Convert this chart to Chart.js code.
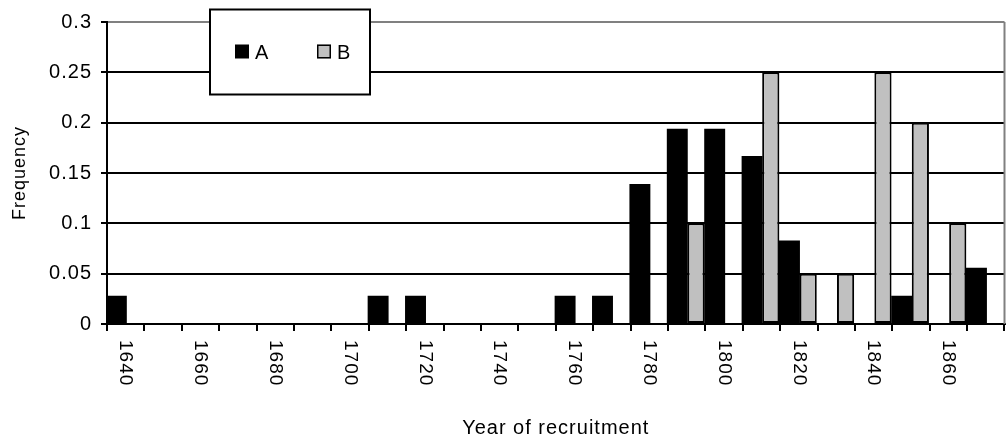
<!DOCTYPE html>
<html>
<head>
<meta charset="utf-8">
<script src="https://cdn.jsdelivr.net/npm/chart.js@4.4.1/dist/chart.umd.min.js"></script>
<style>
  html, body { margin: 0; padding: 0; background: #ffffff; overflow: hidden; }
  #wrap { width: 1007px; height: 439px; position: relative; }
</style>
</head>
<body>
<div id="wrap"><canvas id="chart" width="1007" height="439"></canvas></div>
<script>
// Recruitment decades (one category per decade)
const years = ['1640','1650','1660','1670','1680','1690','1700','1710','1720','1730','1740','1750',
               '1760','1770','1780','1790','1800','1810','1820','1830','1840','1850','1860','1870'];

// Relative frequency per decade
const seriesA = [0.028, 0, 0, 0, 0, 0, 0, 0.028, 0.028, 0, 0, 0,
                 0.028, 0.028, 0.139, 0.194, 0.194, 0.167, 0.083, 0, 0, 0.028, 0, 0.056];
const seriesB = [0, 0, 0, 0, 0, 0, 0, 0, 0, 0, 0, 0,
                 0, 0, 0, 0.1, 0, 0.25, 0.05, 0.05, 0.25, 0.2, 0.1, 0];

// Axis tick labels
const xTickLabels = ['1640','1660','1680','1700','1720','1740','1760','1780','1800','1820','1840','1860'];
const yTickLabels = ['0','0.05','0.1','0.15','0.2','0.25','0.3'];

const FONT = '"Liberation Sans", Arial, Helvetica, sans-serif';

// Slightly open letter spacing for every text drawn on the canvas
const spacingPlugin = {
  id: 'spacing',
  beforeDraw(chart) {
    chart.ctx.letterSpacing = '1px';
  }
};

// Year labels below the axis, rotated to read top to bottom
const xLabelPlugin = {
  id: 'xLabels',
  afterDraw(chart) {
    const xs = chart.scales.x;
    const ctx = chart.ctx;
    ctx.save();
    ctx.font = '19px ' + FONT;
    ctx.fillStyle = '#000000';
    ctx.textAlign = 'left';
    ctx.textBaseline = 'middle';
    years.forEach((y, i) => {
      if (!xTickLabels.includes(y)) return;
      const px = xs.getPixelForTick(i);
      ctx.save();
      ctx.translate(px, xs.top + 16);
      ctx.rotate(Math.PI / 2);
      ctx.fillText(y, 0, 0);
      ctx.restore();
    });
    ctx.restore();
  }
};

// Plot-area frame on the right side
const framePlugin = {
  id: 'frame',
  afterDatasetsDraw(chart) {
    const { ctx, chartArea } = chart;
    ctx.save();
    ctx.strokeStyle = '#808080';
    ctx.lineWidth = 2;
    ctx.beginPath();
    ctx.moveTo(chartArea.right, chartArea.top);
    ctx.lineTo(chartArea.right, chartArea.bottom);
    ctx.stroke();
    ctx.restore();
  }
};

// Boxed legend sitting over the top of the plot
const legendPlugin = {
  id: 'boxLegend',
  afterDraw(chart) {
    const ctx = chart.ctx;
    const box = { x: 210, y: 9.5, w: 160, h: 85 };
    ctx.save();
    ctx.fillStyle = '#ffffff';
    ctx.fillRect(box.x, box.y, box.w, box.h);
    ctx.strokeStyle = '#000000';
    ctx.lineWidth = 2;
    ctx.strokeRect(box.x, box.y, box.w, box.h);
    const itemX = [235, 317];
    ctx.font = '20px ' + FONT;
    ctx.textBaseline = 'alphabetic';
    ctx.textAlign = 'left';
    chart.data.datasets.forEach((ds, i) => {
      const sx = itemX[i], sy = 44.5, s = 14;
      ctx.fillStyle = ds.backgroundColor;
      ctx.fillRect(sx, sy, s, s);
      if (ds.borderWidth) {
        ctx.strokeStyle = '#000000';
        ctx.lineWidth = 1.5;
        ctx.strokeRect(sx + 0.75, sy + 0.75, s - 1.5, s - 1.5);
      }
      ctx.fillStyle = '#000000';
      ctx.fillText(ds.label, sx + 20, 58.5);
    });
    ctx.restore();
  }
};

new Chart(document.getElementById('chart'), {
  type: 'bar',
  data: {
    labels: years,
    datasets: [
      {
        label: 'A',
        data: seriesA,
        backgroundColor: '#000000',
        borderWidth: 0,
        barPercentage: 1.12,
        categoryPercentage: 1
      },
      {
        label: 'B',
        data: seriesB,
        backgroundColor: '#c0c0c0',
        borderColor: '#000000',
        borderWidth: 2,
        borderSkipped: false,
        barPercentage: 0.92,
        categoryPercentage: 1
      }
    ]
  },
  options: {
    responsive: false,
    animation: false,
    devicePixelRatio: 1,
    layout: { padding: { top: 22, right: 2.5, bottom: 0, left: 0 } },
    plugins: {
      legend: { display: false },
      tooltip: { enabled: false }
    },
    scales: {
      x: {
        afterFit(scale) { scale.height = 115; },
        ticks: { display: false },
        grid: {
          display: true,
          offset: true,
          drawOnChartArea: false,
          drawTicks: true,
          tickLength: 7,
          color: '#000000',
          lineWidth: 2
        },
        border: { color: '#000000', width: 2 },
        title: {
          display: true,
          text: 'Year of recruitment',
          color: '#000000',
          font: { family: FONT, size: 20, lineHeight: 1 },
          padding: { top: 0, bottom: 1 }
        }
      },
      y: {
        min: 0,
        max: 0.3,
        afterFit(scale) { scale.width = 107; },
        ticks: {
          stepSize: 0.05,
          padding: 9,
          color: '#000000',
          font: { family: FONT, size: 20 },
          callback: (v, i) => yTickLabels[i]
        },
        grid: {
          color: (c) => (c.index === yTickLabels.length - 1 ? '#808080' : '#000000'),
          tickColor: '#000000',
          tickLength: 6,
          lineWidth: 2
        },
        border: { color: '#000000', width: 2 },
        title: {
          display: true,
          text: 'Frequency',
          color: '#000000',
          font: { family: FONT, size: 18, lineHeight: 1 },
          padding: { top: 11, bottom: 0 }
        }
      }
    }
  },
  plugins: [spacingPlugin, framePlugin, xLabelPlugin, legendPlugin]
});
</script>
</body>
</html>
